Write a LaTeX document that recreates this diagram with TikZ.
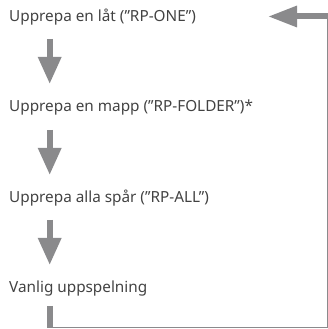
\documentclass[tikz,border=0pt]{standalone}
\usepackage{fontspec}
\setmainfont{Noto Sans}
\usetikzlibrary{arrows.meta}
\definecolor{arrowgray}{RGB}{138,138,140}
\definecolor{textgray}{RGB}{66,66,66}
\begin{document}
\begin{tikzpicture}[x=1pt, y=1pt,
		every node/.style={anchor=base west, inner sep=0pt, text=textgray, font=\fontsize{15.3}{18}\selectfont},
		flowarrow/.style={arrowgray, line width=6pt, -{Triangle[length=27pt, width=22pt]}},
		loopline/.style={arrowgray, line width=1.2pt}]
	\useasboundingbox (0,0) rectangle (328,329);
	
	% ==================== 模式文字 ====================
	\node (one)    at (9,307) {Upprepa en låt (”RP-ONE”)};
	\node (folder) at (9,217) {Upprepa en mapp (”RP-FOLDER”)*};
	\node (all)    at (9,126) {Upprepa alla spår (”RP-ALL”)};
	\node (normal) at (9,36)  {Vanlig uppspelning};
	
	% ==================== 向下箭头 ====================
	\draw[flowarrow] ([xshift=40.7pt, yshift=-17pt]one.base west) -- ([xshift=40.7pt, yshift=28pt]folder.base west);
	\draw[flowarrow] ([xshift=40.7pt, yshift=-18pt]folder.base west) -- ([xshift=40.7pt, yshift=28pt]all.base west);
	\draw[flowarrow] ([xshift=40.7pt, yshift=-17pt]all.base west) -- ([xshift=40.7pt, yshift=28pt]normal.base west);
	
	% ==================== 返回回路 ====================
	\coordinate (bottom) at (49.7,1.2);
	\coordinate (corner) at (327.2,1.2);
	\coordinate (top)    at (327.2,312.5);
	\coordinate (back)   at (268,312.5);
	\draw[arrowgray, line width=6pt] ([xshift=40.7pt, yshift=-13pt]normal.base west) -- ([yshift=-0.6pt]bottom);
	\draw[loopline] (bottom) -- (corner) -- ([yshift=-3pt]top);
	\draw[flowarrow, -{Triangle[length=29pt, width=20pt]}] ([xshift=0.6pt]top) -- (back);
\end{tikzpicture}
\end{document}
